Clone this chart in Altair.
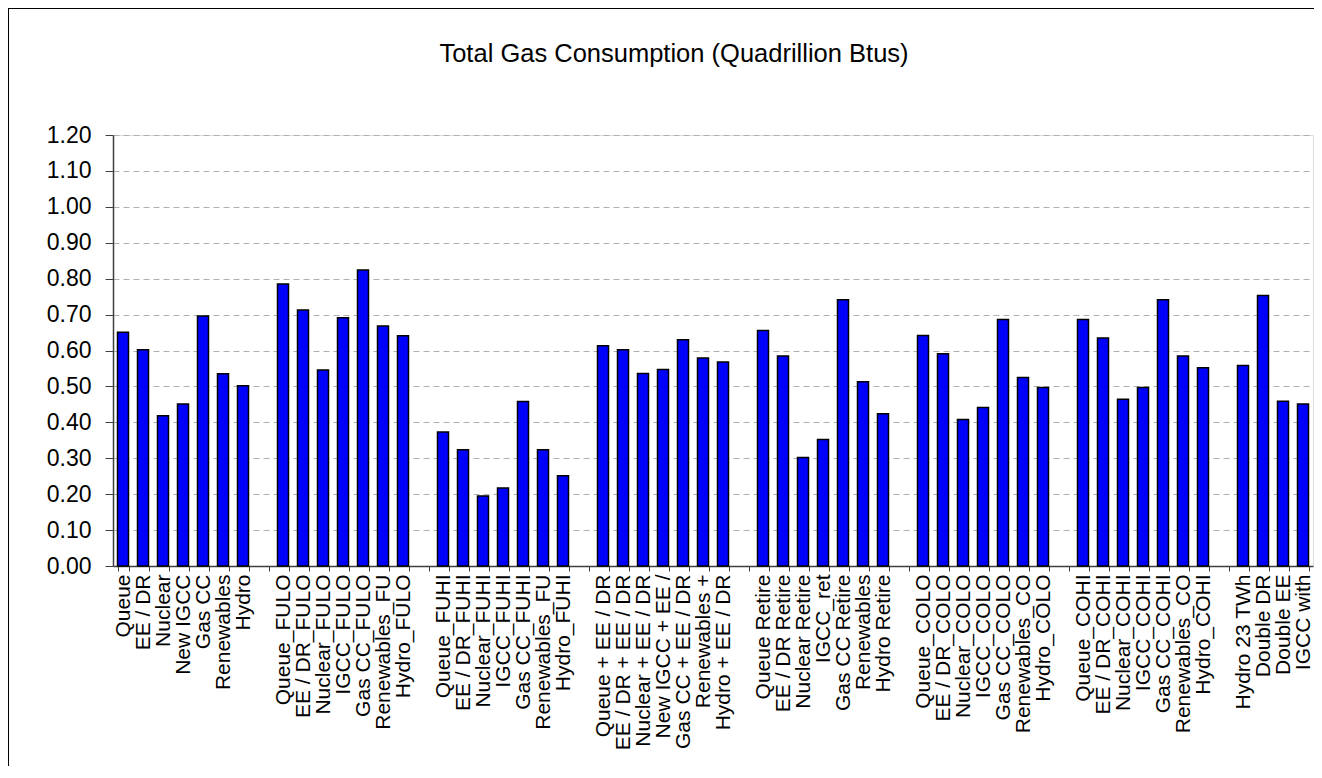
import json
import altair as alt
import pandas as pd

TITLE = "Total Gas Consumption (Quadrillion Btus)"

# Scenario groups (labels as shown on the axis, truncated as in the source)
group_labels = [
    ["Queue", "EE / DR", "Nuclear", "New IGCC", "Gas CC", "Renewables", "Hydro"],
    ["Queue_FULO", "EE / DR_FULO", "Nuclear_FULO", "IGCC_FULO", "Gas CC_FULO", "Renewables_FU", "Hydro_FULO"],
    ["Queue_FUHI", "EE / DR_FUHI", "Nuclear_FUHI", "IGCC_FUHI", "Gas CC_FUHI", "Renewables_FU", "Hydro_FUHI"],
    ["Queue + EE / DR", "EE / DR + EE / DR", "Nuclear + EE / DR", "New IGCC + EE /", "Gas CC + EE / DR", "Renewables +", "Hydro + EE / DR"],
    ["Queue Retire", "EE / DR Retire", "Nuclear Retire", "IGCC_ret", "Gas CC Retire", "Renewables", "Hydro Retire"],
    ["Queue_COLO", "EE / DR_COLO", "Nuclear_COLO", "IGCC_COLO", "Gas CC_COLO", "Renewables_CO", "Hydro_COLO"],
    ["Queue_COHI", "EE / DR_COHI", "Nuclear_COHI", "IGCC_COHI", "Gas CC_COHI", "Renewables_CO", "Hydro_COHI"],
    ["Hydro 23 TWh", "Double DR", "Double EE", "IGCC with"],
]

group_values = [
    [0.651, 0.602, 0.418, 0.451, 0.696, 0.535, 0.502],
    [0.785, 0.713, 0.546, 0.691, 0.824, 0.668, 0.641],
    [0.373, 0.324, 0.195, 0.217, 0.458, 0.324, 0.251],
    [0.613, 0.602, 0.536, 0.547, 0.630, 0.579, 0.568],
    [0.656, 0.585, 0.302, 0.352, 0.741, 0.513, 0.424],
    [0.642, 0.591, 0.408, 0.441, 0.686, 0.525, 0.497],
    [0.686, 0.635, 0.464, 0.497, 0.741, 0.585, 0.552],
    [0.558, 0.753, 0.459, 0.451],
]

y_ticks = [round(i * 0.1, 2) for i in range(13)]

# Build category slots: each group followed by one empty category (gap)
slot_labels = []
rows = []
for gi, (labs, vals) in enumerate(zip(group_labels, group_values)):
    for lab, v in zip(labs, vals):
        rows.append({"slot": len(slot_labels), "label": lab, "value": v})
        slot_labels.append(lab)
    if gi < len(group_labels) - 1:
        slot_labels.append("")

df = pd.DataFrame(rows)
domain = list(range(len(slot_labels)))
label_expr = json.dumps(slot_labels) + "[datum.value]"

FONT = "Liberation Sans"
W, H = 1200, 431

bars = alt.Chart(df).mark_bar(
    color="#0000FF", stroke="#000000", strokeWidth=1.5
).encode(
    x=alt.X(
        "slot:O",
        scale=alt.Scale(domain=domain, paddingInner=0.45, paddingOuter=0.225),
        axis=alt.Axis(
            title=None,
            labelExpr=label_expr,
            labelAngle=-90,
            labelFontSize=21,
            labelFont=FONT,
            labelColor="#000000",
            labelPadding=3,
            labelLimit=400,
            labelOverlap=False,
            tickBand="extent",
            tickSize=5,
            tickColor="#404040",
            domainColor="#404040",
            domainWidth=1.5,
            grid=False,
        ),
    ),
    y=alt.Y(
        "value:Q",
        scale=alt.Scale(domain=[0, 1.2], nice=False, zero=True),
        axis=alt.Axis(
            title=None,
            values=y_ticks,
            format=".2f",
            labelFontSize=23,
            labelFont=FONT,
            labelColor="#000000",
            labelPadding=14,
            tickSize=8,
            tickColor="#404040",
            domainColor="#404040",
            domainWidth=1.5,
            grid=True,
            gridColor="#b0b0b0",
            gridDash=[6, 4],
            gridWidth=1,
        ),
    ),
    tooltip=["label:N", "value:Q"],
)

frame = alt.Chart(df).mark_rect(
    filled=False, stroke="#000000", strokeWidth=1
).encode(
    x=alt.value(-104.5), x2=alt.value(1400),
    y=alt.value(-126.5), y2=alt.value(900),
)

chart = alt.layer(bars, frame).properties(
    width=W,
    height=H,
    autosize=alt.AutoSizeParams(type="none"),
    padding={"left": 105, "top": 127, "right": 1, "bottom": 200},
    title=alt.Title(
        TITLE, fontSize=25.5, font=FONT, fontWeight="normal", color="#000000",
        anchor="middle", frame="group", baseline="alphabetic", offset=-79, dx=-39,
    ),
).configure_view(
    stroke="#808080", strokeWidth=1.5
).configure(background="#ffffff")

chart.save("out.html", embed_options={"renderer": "svg", "actions": False})
